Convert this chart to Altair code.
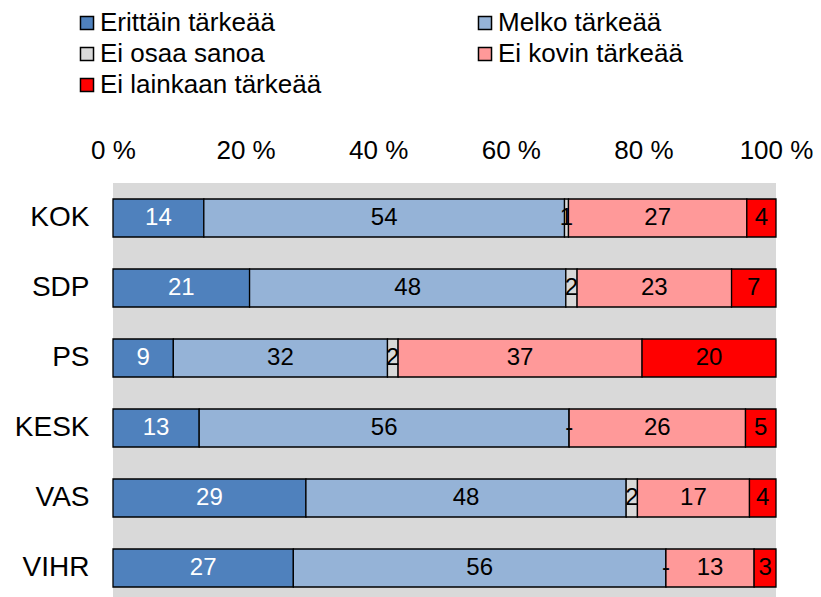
import altair as alt
import pandas as pd

parties = ["KOK", "SDP", "PS", "KESK", "VAS", "VIHR"]
categories = ["Erittäin tärkeää", "Melko tärkeää", "Ei osaa sanoa",
              "Ei kovin tärkeää", "Ei lainkaan tärkeää"]
colors = ["#4F81BD", "#95B3D7", "#D9D9D9", "#FF9999", "#FF0000"]
# legend reading order (two columns, filled row by row in the reference)
legend_order = ["Erittäin tärkeää", "Ei osaa sanoa", "Ei lainkaan tärkeää",
                "Melko tärkeää", "Ei kovin tärkeää"]

# shares (%)
erittain = [13.7, 20.6, 9.1, 13.0, 29.1, 27.2]
melko = [54.4, 47.7, 32.3, 55.8, 48.3, 56.2]
eos = [0.6, 1.7, 1.6, 0.0, 1.7, 0.0]
ei_kovin = [26.9, 23.3, 36.8, 26.6, 16.9, 13.3]
ei_lainkaan = [4.4, 6.7, 20.2, 4.6, 4.0, 3.3]

# printed data labels
erittain_lbl = ["14", "21", "9", "13", "29", "27"]
melko_lbl = ["54", "48", "32", "56", "48", "56"]
eos_lbl = ["1", "2", "2", "-", "2", "-"]
ei_kovin_lbl = ["27", "23", "37", "26", "17", "13"]
ei_lainkaan_lbl = ["4", "7", "20", "5", "4", "3"]

x_ticks = [0, 20, 40, 60, 80, 100]

series = [erittain, melko, eos, ei_kovin, ei_lainkaan]
series_lbl = [erittain_lbl, melko_lbl, eos_lbl, ei_kovin_lbl, ei_lainkaan_lbl]

rows = []
for ci, cat in enumerate(categories):
    for pi, party in enumerate(parties):
        rows.append({"party": party, "cat": cat, "order": ci,
                     "value": series[ci][pi], "label": series_lbl[ci][pi]})
df = pd.DataFrame(rows)

FONT = "Liberation Sans"

base = alt.Chart(df).transform_stack(
    stack="value", groupby=["party"], as_=["x0", "x1"],
    sort=[alt.SortField("order", order="ascending")]
).transform_calculate(mid="(datum.x0 + datum.x1) / 2")

y_scale = alt.Scale(domain=parties, paddingInner=0, paddingOuter=0)

y_enc = alt.Y("party:N", sort=parties, title=None, scale=y_scale,
              axis=alt.Axis(labelFontSize=28, labelFont=FONT, labelColor="black",
                            labelPadding=24, ticks=False, domain=False, grid=False))

bars = base.mark_bar(size=38, stroke="black", strokeWidth=1.3).encode(
    y=y_enc,
    x=alt.X("x0:Q", title=None,
            scale=alt.Scale(domain=[0, 100], nice=False, zero=True),
            axis=alt.Axis(orient="top", values=x_ticks, labelExpr="datum.value + ' %'",
                          labelFontSize=26, labelFont=FONT, labelColor="black",
                          labelPadding=20, ticks=False, domain=False, grid=False,
                          labelFlush=False)),
    x2="x1:Q",
    color=alt.Color("cat:N", scale=alt.Scale(domain=categories, range=colors),
                    legend=alt.Legend(title=None, orient="none", legendX=-39, legendY=-173,
                                      values=legend_order,
                                      columns=2, columnPadding=150, rowPadding=5,
                                      symbolType="square", symbolSize=170,
                                      symbolStrokeColor="black", symbolStrokeWidth=1.5,
                                      labelFontSize=26, labelFont=FONT, labelColor="black",
                                      labelLimit=600, labelOffset=0, padding=0)),
)

texts = base.mark_text(fontSize=24, font=FONT, baseline="middle", align="center").encode(
    y=alt.Y("party:N", sort=parties, scale=y_scale),
    x=alt.X("mid:Q"),
    text="label:N",
    color=alt.condition("datum.cat == 'Erittäin tärkeää'", alt.value("white"), alt.value("black")),
)

chart = alt.layer(bars, texts).properties(
    width=663, height=420,
    autosize=alt.AutoSizeParams(type="none"),
    padding={"left": 105, "top": 175, "right": 37, "bottom": 0},
).configure_view(fill="#D9D9D9", strokeWidth=0)

chart.save("out.html", embed_options={"renderer": "svg", "actions": False})
